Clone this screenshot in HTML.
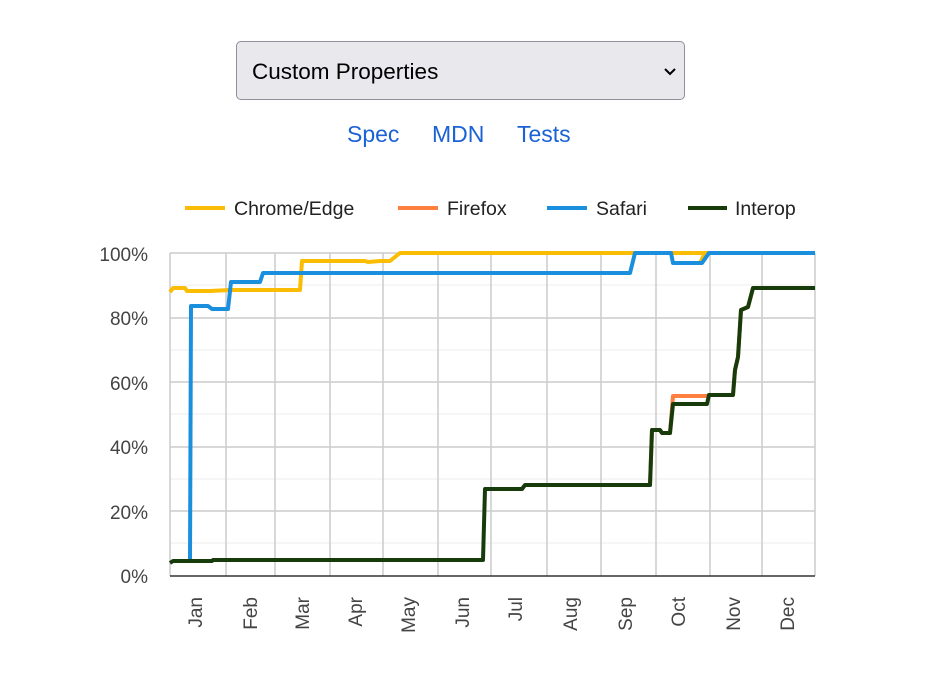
<!DOCTYPE html>
<html><head><style>
body{margin:0;width:931px;height:689px;background:#fff;font-family:"Liberation Sans",Arial,sans-serif;position:relative;overflow:hidden}
.sel{position:absolute;left:236px;top:41px;width:449px;height:59px;background:#e9e9ed;border:1px solid #8f8f9d;border-radius:5px;box-sizing:border-box}
.sel span{position:absolute;left:15px;top:17px;font-size:22.5px;color:#000}
.lnk{position:absolute;top:121px;font-size:23px;color:#1a62d6}
</style></head><body>
<div class="sel"><span>Custom Properties</span>
<svg style="position:absolute;left:427px;top:26px" width="12" height="8"><path d="M1 1L6 6L11 1" fill="none" stroke="#000" stroke-width="2"/></svg></div>
<div class="lnk" style="left:347px">Spec</div>
<div class="lnk" style="left:432px">MDN</div>
<div class="lnk" style="left:517px">Tests</div>
<svg width="931" height="689" style="position:absolute;left:0;top:0" font-family="Liberation Sans, Arial, sans-serif">
<g stroke-width="4">
<line x1="185" y1="208" x2="225" y2="208" stroke="#fbbc04"/>
<line x1="398" y1="208" x2="438" y2="208" stroke="#ff7f3f"/>
<line x1="547" y1="208" x2="587" y2="208" stroke="#1a8fdd"/>
<line x1="688" y1="208" x2="727" y2="208" stroke="#173b0b"/>
</g>
<g font-size="19.5" fill="#222">
<text x="234" y="215">Chrome/Edge</text><text x="447" y="215">Firefox</text>
<text x="596" y="215">Safari</text><text x="735" y="215">Interop</text>
</g>
<g stroke="#ececec" stroke-width="1">
<line x1="170" y1="285" x2="815" y2="285"/><line x1="170" y1="350" x2="815" y2="350"/>
<line x1="170" y1="414" x2="815" y2="414"/><line x1="170" y1="479" x2="815" y2="479"/>
<line x1="170" y1="543" x2="815" y2="543"/>
</g>
<g stroke="#cccccc" stroke-width="1.5">
<line x1="170" y1="253" x2="815" y2="253"/><line x1="170" y1="318" x2="815" y2="318"/>
<line x1="170" y1="382" x2="815" y2="382"/><line x1="170" y1="447" x2="815" y2="447"/>
<line x1="170" y1="511" x2="815" y2="511"/>
<line x1="170" y1="253" x2="170" y2="576"/><line x1="226" y1="253" x2="226" y2="576"/>
<line x1="275" y1="253" x2="275" y2="576"/><line x1="330" y1="253" x2="330" y2="576"/>
<line x1="383" y1="253" x2="383" y2="576"/><line x1="438" y1="253" x2="438" y2="576"/>
<line x1="491" y1="253" x2="491" y2="576"/><line x1="547" y1="253" x2="547" y2="576"/>
<line x1="601" y1="253" x2="601" y2="576"/><line x1="656" y1="253" x2="656" y2="576"/>
<line x1="710" y1="253" x2="710" y2="576"/><line x1="762" y1="253" x2="762" y2="576"/>
<line x1="815" y1="253" x2="815" y2="576"/>
</g>
<line x1="170" y1="576" x2="815" y2="576" stroke="#333" stroke-width="1.5"/>
<g font-size="19" fill="#444" text-anchor="end">
<text x="148" y="261">100%</text><text x="148" y="325">80%</text><text x="148" y="390">60%</text>
<text x="148" y="454">40%</text><text x="148" y="519">20%</text><text x="148" y="583">0%</text>
</g>
<g font-size="19" fill="#444" text-anchor="end">
<text transform="translate(202,597) rotate(-90)">Jan</text>
<text transform="translate(257,597) rotate(-90)">Feb</text>
<text transform="translate(309,597) rotate(-90)">Mar</text>
<text transform="translate(362,597) rotate(-90)">Apr</text>
<text transform="translate(415,597) rotate(-90)">May</text>
<text transform="translate(469,597) rotate(-90)">Jun</text>
<text transform="translate(522,597) rotate(-90)">Jul</text>
<text transform="translate(577,597) rotate(-90)">Aug</text>
<text transform="translate(632,597) rotate(-90)">Sep</text>
<text transform="translate(685,597) rotate(-90)">Oct</text>
<text transform="translate(740,597) rotate(-90)">Nov</text>
<text transform="translate(794,597) rotate(-90)">Dec</text>
</g>
<g fill="none" stroke-width="4" stroke-linejoin="round">
<polyline stroke="#fbbc04" points="170,292 173,288 185,288 187,291 210,291 230,290 300,290 302,261 340,261 365,261 368,262 380,261 390,261 400,253 698,253 705,253 815,253"/>
<polyline stroke="#fbbc04" points="690,263 700,263 705,253"/>
<polyline stroke="#1a8fdd" points="190,562 191,306 208,306 212,309 228,309 231,282 260,282 263,273 630,273 635,253 671,253 673,263 700,263 702,263 709,253 815,253"/>
<polyline stroke="#ff7f3f" points="650,485 652,430 660,430 662,433 670,433 673,396 707,396 709,395 733,395 735,370 738,357 741,310 748,307 753,288 815,288"/>
<polyline stroke="#173b0b" points="170,563 173,561 212,561 213,560 483,560 485,489 522,489 525,485 650,485 652,430 660,430 662,433 670,433 673,404 707,404 709,395 733,395 735,370 738,357 741,310 748,307 753,288 815,288"/>
</g>
</svg>
</body></html>
